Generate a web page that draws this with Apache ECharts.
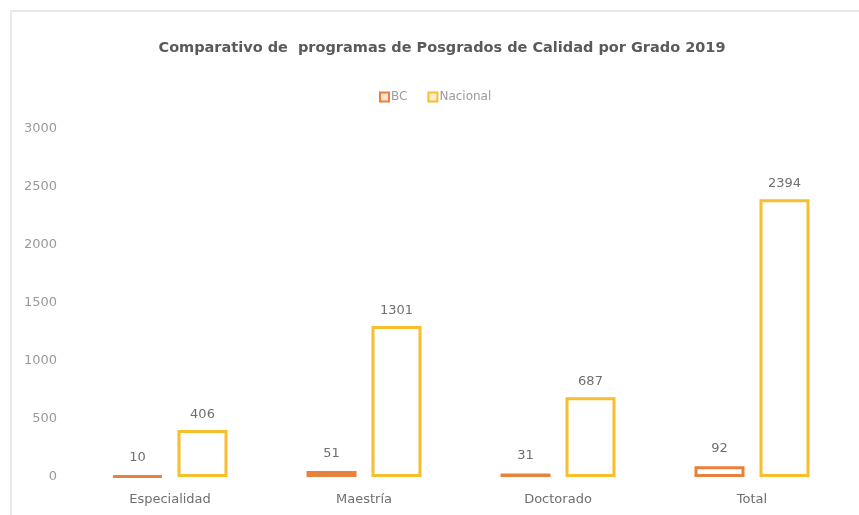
<!DOCTYPE html>
<html>
<head>
<meta charset="utf-8">
<script src="https://cdn.jsdelivr.net/npm/echarts@6/dist/echarts.min.js"></script>
<style>
    html, body { margin: 0; padding: 0; background: #fff; }
    #chart { width: 859px; height: 515px; }
</style>
</head>
<body>
<div id="chart"></div>
<script>
    const categories = ['Especialidad', 'Maestría', 'Doctorado', 'Total']
    const bcValues = [10, 51, 31, 92]
    const nacionalValues = [406, 1301, 687, 2394]
    const yTicks = [0, 500, 1000, 1500, 2000, 2500, 3000]

    const orange = '#E8803E'
    const gold = '#F7BE2E'
    const textGray = '#6f6f6f'
    const font = 'DejaVu Sans'

    const mChart = echarts.init(document.getElementById('chart'))
    const option = {
        backgroundColor: '#fff',
        animation: false,
        // marco de la imagen
        graphic: [
            { type: 'rect', left: 10, top: 10, shape: { width: 849, height: 2 }, style: { fill: '#e8e8e8' } },
            { type: 'rect', left: 10, top: 10, shape: { width: 2, height: 505 }, style: { fill: '#e8e8e8' } }
        ],
        title: {
            text: 'Comparativo de  programas de Posgrados de Calidad por Grado 2019',
            left: 437,
            top: 36,
            textAlign: 'center',
            textStyle: {
                color: '#5a5a5a',
                fontSize: 14.5,
                fontWeight: 'bold',
                fontFamily: font
            }
        },
        legend: {
            top: 86,
            left: 374,
            itemWidth: 9,
            itemHeight: 9,
            itemGap: 20,
            icon: 'rect',
            textStyle: { color: '#9a9a9a', fontSize: 12, fontFamily: font, padding: [0, 0, 0, -3] },
            data: [
                { name: 'BC', itemStyle: { color: '#fbe3d3', borderColor: orange, borderWidth: 2 } },
                { name: 'Nacional', itemStyle: { color: '#fdf0cf', borderColor: gold, borderWidth: 2 } }
            ]
        },
        grid: {
            left: 73,
            right: 10,
            top: 129,
            bottom: 38
        },
        xAxis: {
            type: 'category',
            data: categories,
            axisLine: { show: false },
            axisTick: { show: false },
            axisLabel: {
                color: textGray,
                fontSize: 13,
                fontFamily: font,
                margin: 16
            }
        },
        yAxis: {
            type: 'value',
            min: yTicks[0],
            max: yTicks[yTicks.length - 1],
            interval: yTicks[1] - yTicks[0],
            axisLine: { show: false },
            axisTick: { show: false },
            splitLine: { show: false },
            axisLabel: {
                color: '#9a9a9a',
                fontSize: 13,
                fontFamily: font,
                margin: 16,
                formatter: function(v) { return String(v) }
            }
        },
        series: [{
            name: 'BC',
            type: 'bar',
            data: bcValues,
            barWidth: 50,
            barGap: '30%',
            itemStyle: { color: '#fff', borderColor: orange, borderWidth: 3 },
            label: {
                show: true,
                position: 'top',
                distance: 11,
                color: textGray,
                fontSize: 13,
                fontFamily: font
            }
        }, {
            name: 'Nacional',
            type: 'bar',
            data: nacionalValues,
            barWidth: 50,
            itemStyle: { color: '#fff', borderColor: gold, borderWidth: 3 },
            label: {
                show: true,
                position: 'top',
                distance: 9,
                color: textGray,
                fontSize: 13,
                fontFamily: font
            }
        }]
    }
    mChart.setOption(option)
    window.addEventListener('resize', function() {
        mChart.resize()
    })
</script>
</body>
</html>
